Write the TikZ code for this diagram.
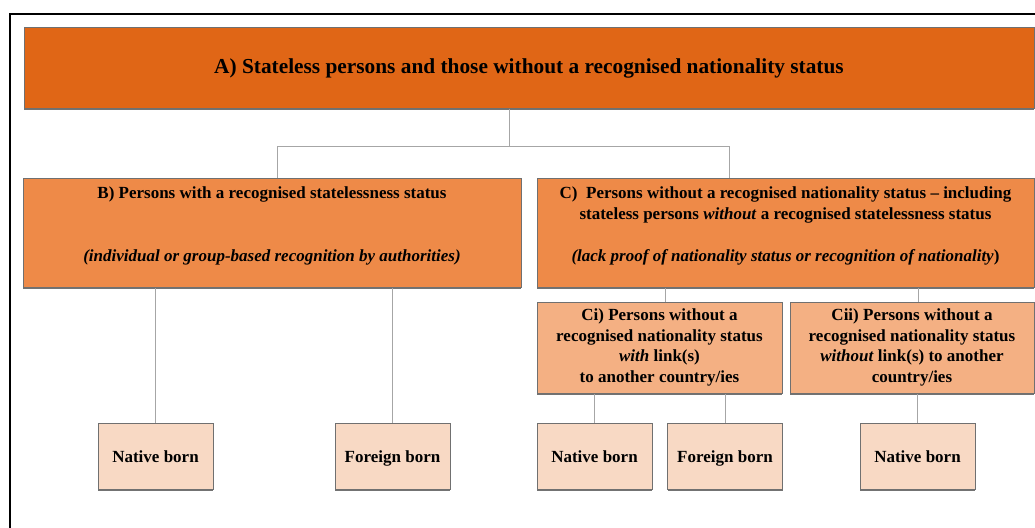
\documentclass[tikz,border=0pt]{standalone}
\usepackage{fontspec}
\setmainfont{Liberation Serif}
\usetikzlibrary{shadows}
\definecolor{topfill}{HTML}{E06616}
\definecolor{midfill}{HTML}{EE8A48}
\definecolor{subfill}{HTML}{F4B083}
\definecolor{leaffill}{HTML}{F8D9C4}
\definecolor{boxline}{HTML}{707070}
\definecolor{linkline}{HTML}{A6A6A6}
\begin{document}
\begin{tikzpicture}[x=0.75pt, y=-0.75pt,
    box/.style={draw=boxline, line width=0.75pt, align=center, inner sep=0pt,
      font=\bfseries\fontsize{12.75}{15.4}\selectfont,
      drop shadow={shadow xshift=0pt, shadow yshift=-1.8pt, fill=black!55, opacity=1}},
    leaf/.style={box, fill=leaffill, minimum width=86.25pt, minimum height=49.5pt,
      text height=11pt, text depth=2pt},
    link/.style={draw=linkline, line width=0.75pt}]
    \useasboundingbox (0,0) rectangle (1035,528);
    % frame
    \draw[line width=1.5pt] (10,528) -- (10,14.5) -- (1035,14.5);
    % boxes
    \node[box, fill=topfill, minimum width=757.5pt, minimum height=60pt,
      font=\bfseries\fontsize{16}{19}\selectfont] (A) at (529,68)
      {A) Stateless persons and those without a recognised nationality status};
    \node[box, fill=midfill, minimum width=373.5pt, minimum height=81.75pt] (B) at (272,232.5)
      {B) Persons with a recognised statelessness status\\[31.5pt]
       \textit{(individual or group-based recognition by authorities)}\\[-3pt] \mbox{}};
    \node[box, fill=midfill, minimum width=372.75pt, minimum height=81.75pt] (C) at (785.5,232.5)
      {C)\ \ Persons without a recognised nationality status -- including\\
       stateless persons \textit{without} a recognised statelessness status\\[16.5pt]
       \textit{(lack proof of nationality status or recognition of nationality})\\[-3pt] \mbox{}};
    \node[box, fill=subfill, minimum width=183.75pt, minimum height=68.25pt] (Ci) at (659.5,347.5)
      {Ci) Persons without a\\ recognised nationality status\\ \textit{with} link(s)\\ to another country/ies};
    \node[box, fill=subfill, minimum width=183pt, minimum height=68.25pt] (Cii) at (912,347.5)
      {Cii) Persons without a\\ recognised nationality status\\ \textit{without} link(s) to another\\ country/ies};
    \node[leaf] (bnat) at (155.5,456) {Native born};
    \node[leaf] (bfor) at (392.5,456) {Foreign born};
    \node[leaf] (cinat) at (594.5,456) {Native born};
    \node[leaf] (cifor) at (725,456) {Foreign born};
    \node[leaf] (ciinat) at (917.5,456) {Native born};
    % connectors
    \coordinate (split) at (509,146);
    \coordinate (bjoin) at (277,146);
    \coordinate (cjoin) at (729,146);
    \draw[link] (split |- A.south) -- (split);
    \draw[link] (bjoin |- B.north) -- (bjoin) -- (cjoin) -- (cjoin |- C.north);
    \draw[link] ([xshift=4.5pt]Ci.north) -- ([xshift=4.5pt]Ci.north |- C.south);
    \draw[link] ([xshift=4.5pt]Cii.north) -- ([xshift=4.5pt]Cii.north |- C.south);
    \draw[link] (bnat.north) -- (bnat.north |- B.south);
    \draw[link] (bfor.north) -- (bfor.north |- B.south);
    \draw[link] (cinat.north) -- (cinat.north |- Ci.south);
    \draw[link] (cifor.north) -- (cifor.north |- Ci.south);
    \draw[link] (ciinat.north) -- (ciinat.north |- Cii.south);
\end{tikzpicture}
\end{document}
